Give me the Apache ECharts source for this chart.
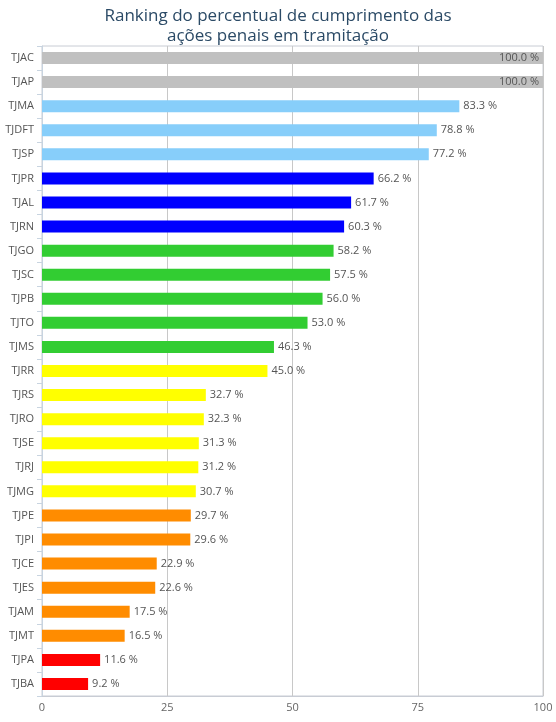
<!DOCTYPE html>
<html>
<head>
    <meta charset="utf-8">
    <title>Ranking</title>
    <script src="https://cdn.jsdelivr.net/npm/echarts@6/dist/echarts.min.js"></script>
    <style>
        html, body { margin: 0; padding: 0; background: #fff; }
        #main { width: 556px; height: 722px; }
    </style>
</head>
<body>
    <div id="main"></div>
    <script>
        // tribunais, do maior para o menor
        var tribunais = ['TJAC', 'TJAP', 'TJMA', 'TJDFT', 'TJSP', 'TJPR', 'TJAL', 'TJRN', 'TJGO', 'TJSC',
            'TJPB', 'TJTO', 'TJMS', 'TJRR', 'TJRS', 'TJRO', 'TJSE', 'TJRJ', 'TJMG', 'TJPE',
            'TJPI', 'TJCE', 'TJES', 'TJAM', 'TJMT', 'TJPA', 'TJBA'];
        var percentuais = [100.0, 100.0, 83.3, 78.8, 77.2, 66.2, 61.7, 60.3, 58.2, 57.5,
            56.0, 53.0, 46.3, 45.0, 32.7, 32.3, 31.3, 31.2, 30.7, 29.7,
            29.6, 22.9, 22.6, 17.5, 16.5, 11.6, 9.2];
        var cores = ['#c0c0c0', '#c0c0c0', '#87cefa', '#87cefa', '#87cefa', '#0000ff', '#0000ff', '#0000ff',
            '#32cd32', '#32cd32', '#32cd32', '#32cd32', '#32cd32', '#ffff00', '#ffff00', '#ffff00',
            '#ffff00', '#ffff00', '#ffff00', '#ff8c00', '#ff8c00', '#ff8c00', '#ff8c00', '#ff8c00',
            '#ff8c00', '#ff0000', '#ff0000'];
        var eixoX = [0, 25, 50, 75, 100];

        var myChart = echarts.init(document.getElementById('main'));

        var dados = [];
        for (var i = 0; i < percentuais.length; i++) {
            dados.push({
                value: percentuais[i],
                itemStyle: { color: cores[i] },
                label: { position: percentuais[i] >= 100 ? 'insideRight' : 'right' }
            });
        }

        var option = {
            animation: false,
            textStyle: { fontFamily: 'Open Sans' },
            title: {
                text: 'Ranking do percentual de cumprimento das\nações penais em tramitação',
                left: 'center',
                top: 1,
                textStyle: {
                    color: '#2b4a66',
                    fontSize: 17,
                    fontWeight: 'normal',
                    lineHeight: 20,
                    fontFamily: 'Open Sans'
                }
            },
            grid: {
                left: 42,
                right: 13,
                top: 46,
                bottom: 26,
                show: true,
                borderColor: '#c8ccd4',
                borderWidth: 1,
                containLabel: false
            },
            xAxis: {
                type: 'value',
                min: eixoX[0],
                max: eixoX[eixoX.length - 1],
                interval: 25,
                axisLine: { show: true, lineStyle: { color: '#c8ccd4' } },
                axisTick: { show: false },
                axisLabel: { color: '#666', fontSize: 11, margin: 6 },
                splitLine: { show: true, lineStyle: { color: '#c8c8c8' } }
            },
            yAxis: {
                type: 'category',
                inverse: true,
                data: tribunais,
                axisLine: { show: true, lineStyle: { color: '#c8d4e0' } },
                axisTick: { show: true, length: 5, lineStyle: { color: '#c8d4e0' } },
                axisLabel: { color: '#555', fontSize: 11, margin: 8 },
                splitLine: { show: false }
            },
            series: [{
                type: 'bar',
                data: dados,
                barWidth: 12,
                label: {
                    show: true,
                    color: '#555',
                    fontSize: 11,
                    distance: 4,
                    formatter: function (p) { return p.value.toFixed(1) + ' %'; }
                }
            }]
        };
        myChart.setOption(option);
    </script>
</body>
</html>
